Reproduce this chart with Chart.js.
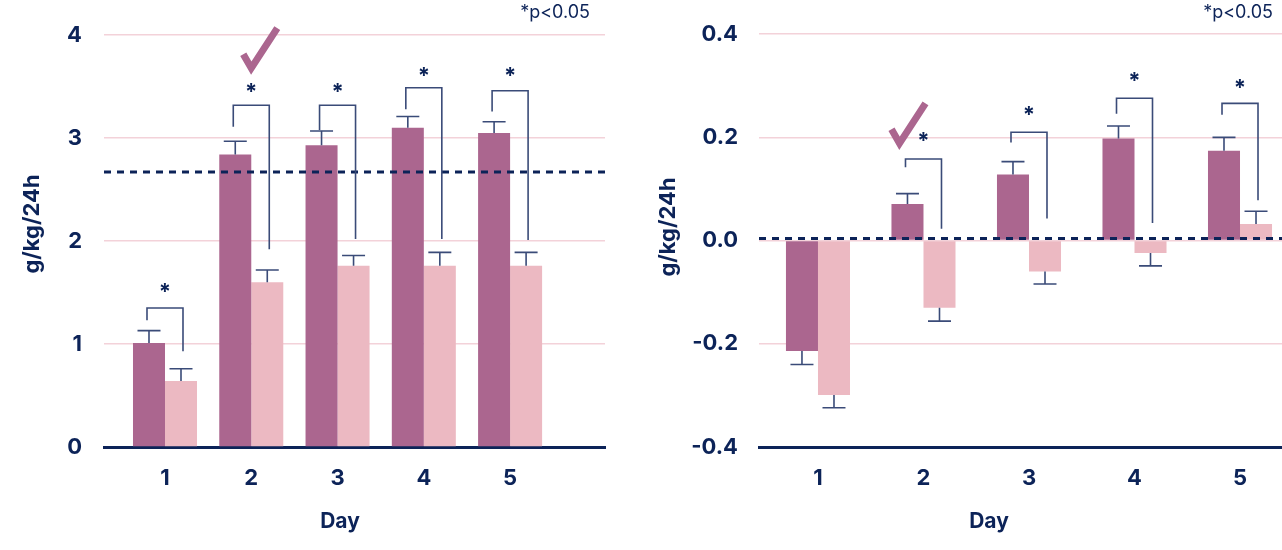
<!DOCTYPE html>
<html><head><meta charset="utf-8">
<script src="https://cdn.jsdelivr.net/npm/chart.js@4/dist/chart.umd.min.js"></script>
<style>
html,body{margin:0;padding:0;background:#fff;}
#wrap{position:relative;width:1282px;height:550px;overflow:hidden;}
.pane{position:absolute;top:0;height:550px;}
</style></head><body>
<div id="wrap">
  <div class="pane" style="left:0;width:640px"><canvas id="c1" width="640" height="550"></canvas></div>
  <div class="pane" style="left:640px;width:642px"><canvas id="c2" width="642" height="550"></canvas></div>
</div>
<script>
// ---------- data ----------
const days = [1, 2, 3, 4, 5];
const dayLabels = ['1', '2', '3', '4', '5'];
const xTitle = 'Day';
const yTitle = 'g/kg/24h';
const note = '*p<0.05';

// left panel (g/kg/24h)
const leftTicks = [0, 1, 2, 3, 4];
const leftDark = [1.01, 2.84, 2.93, 3.10, 3.05];
const leftDarkErr = [0.12, 0.13, 0.14, 0.11, 0.11];
const leftLight = [0.64, 1.60, 1.76, 1.76, 1.76];
const leftLightErr = [0.12, 0.12, 0.10, 0.13, 0.13];
const leftRef = 2.67;
const leftBracketTop = [1.35, 3.32, 3.32, 3.49, 3.46];
const leftBracketDarkEnd = [1.23, 3.11, 3.08, 3.28, 3.26];
const leftBracketLightEnd = [0.93, 1.92, 2.02, 2.02, 2.01];
const leftStar = [1.54, 3.49, 3.49, 3.64, 3.64];
const leftCheck = {day: 2, value: 3.68};

// right panel (g/kg/24h)
const rightTicks = [-0.4, -0.2, 0.0, 0.2, 0.4];
const rightDark = [-0.214, 0.071, 0.128, 0.198, 0.174];
const rightDarkErr = [0.026, 0.020, 0.025, 0.024, 0.026];
const rightLight = [-0.299, -0.130, -0.060, -0.024, 0.032];
const rightLightErr = [0.025, 0.026, 0.024, 0.025, 0.025];
const rightRef = 0.004;
const rightBracketTop = [null, 0.158, 0.210, 0.276, 0.266];
const rightBracketDarkEnd = [null, 0.142, 0.190, 0.246, 0.244];
const rightBracketLightEnd = [null, 0.023, 0.043, 0.034, 0.078];
const rightStar = [null, 0.200, 0.252, 0.317, 0.304];
const rightCheck = {day: 2, value: 0.1885};

// ---------- style ----------
const NAVY = '#0c2358';
const LINE = '#3a4b78';
const DARK = '#ab668f';
const LIGHT = '#ecb9c2';
const GRID = '#f3d2d9';
const FONT = 'Inter, "Liberation Sans", Arial, sans-serif';

const annot = {
  id: 'annot',
  afterDatasetsDraw(chart, args, o) {
    const ctx = chart.ctx, xs = chart.scales.x, ys = chart.scales.y, ca = chart.chartArea;
    ctx.save();
    // error bars
    o.errors.forEach((errs, di) => {
      const meta = chart.getDatasetMeta(di);
      meta.data.forEach((bar, i) => {
        const v = chart.data.datasets[di].data[i].y;
        const yp = ys.getPixelForValue(v + Math.sign(v) * errs[i]);
        ctx.strokeStyle = LINE; ctx.lineWidth = 1.6;
        ctx.beginPath();
        ctx.moveTo(bar.x, bar.y); ctx.lineTo(bar.x, yp);
        ctx.moveTo(bar.x - 11.5, yp); ctx.lineTo(bar.x + 11.5, yp);
        ctx.stroke();
      });
    });
    // reference dashed line
    const ry = ys.getPixelForValue(o.ref);
    ctx.strokeStyle = NAVY; ctx.lineWidth = 3; ctx.setLineDash([7, 6]);
    ctx.beginPath(); ctx.moveTo(ca.left, ry); ctx.lineTo(ca.right, ry); ctx.stroke();
    ctx.setLineDash([]);
    // brackets and stars
    const m0 = chart.getDatasetMeta(0), m1 = chart.getDatasetMeta(1);
    o.bTop.forEach((t, i) => {
      if (t == null) return;
      const c = (m0.data[i].x + m1.data[i].x) / 2;
      const a = c - 18, b = c + 18;
      const yt = ys.getPixelForValue(t);
      ctx.strokeStyle = LINE; ctx.lineWidth = 1.6;
      ctx.beginPath();
      ctx.moveTo(a, ys.getPixelForValue(o.bDark[i]));
      ctx.lineTo(a, yt); ctx.lineTo(b, yt);
      ctx.lineTo(b, ys.getPixelForValue(o.bLight[i]));
      ctx.stroke();
      ctx.fillStyle = NAVY;
      ctx.font = 'bold 22px ' + FONT;
      ctx.textAlign = 'center'; ctx.textBaseline = 'alphabetic';
      const mt = ctx.measureText('*');
      const sy = ys.getPixelForValue(o.stars[i]);
      ctx.fillText('*', c, sy + (mt.actualBoundingBoxAscent - mt.actualBoundingBoxDescent) / 2);
    });
    // check mark
    const cx = xs.getPixelForValue(o.check.day) + o.checkDx;
    const cy = ys.getPixelForValue(o.check.value);
    ctx.strokeStyle = DARK; ctx.lineWidth = 7; ctx.lineJoin = 'miter'; ctx.lineCap = 'butt';
    ctx.beginPath();
    ctx.moveTo(cx - 8, cy - 14); ctx.lineTo(cx, cy); ctx.lineTo(cx + 26, cy - 40);
    ctx.stroke();
    // significance note
    ctx.fillStyle = NAVY; ctx.font = '18px ' + FONT;
    ctx.textAlign = 'right'; ctx.textBaseline = 'middle';
    ctx.fillText(note, ca.right + o.noteDx, 13);
    // axis titles
    ctx.font = 'bold 21px ' + FONT;
    ctx.textAlign = 'center'; ctx.textBaseline = 'middle';
    ctx.fillText(xTitle, o.xTitlePos[0], o.xTitlePos[1]);
    ctx.save();
    ctx.translate(o.yTitlePos[0], o.yTitlePos[1]);
    ctx.rotate(-Math.PI / 2);
    ctx.font = 'bold 22px ' + FONT;
    ctx.fillText(yTitle, 0, 0);
    ctx.restore();
    ctx.restore();
  }
};

function makeChart(id, p) {
  const pts = arr => days.map((d, i) => ({x: d, y: arr[i]}));
  return new Chart(document.getElementById(id), {
    type: 'bar',
    data: {
      datasets: [
        {label: 'A', data: pts(p.dark), backgroundColor: DARK},
        {label: 'B', data: pts(p.light), backgroundColor: LIGHT}
      ]
    },
    options: {
      responsive: false, animation: false,
      layout: {padding: {top: 32, left: 0, right: p.padRight, bottom: 0}},
      categoryPercentage: p.catPct, barPercentage: 1,
      plugins: {
        legend: {display: false}, tooltip: {enabled: false},
        annot: {
          errors: [p.darkErr, p.lightErr], ref: p.ref,
          bTop: p.bTop, bDark: p.bDark, bLight: p.bLight, stars: p.stars,
          check: p.check, checkDx: p.checkDx, noteDx: p.noteDx,
          xTitlePos: p.xTitlePos, yTitlePos: p.yTitlePos
        }
      },
      scales: {
        x: {
          type: 'linear', min: p.xmin, max: p.xmax, offset: false,
          afterBuildTicks: s => { s.ticks = days.map(v => ({value: v})); },
          afterFit: s => { s.height = 103; },
          grid: {display: true, drawOnChartArea: false, drawTicks: false},
          border: {display: true, color: NAVY, width: 3},
          ticks: {
            padding: 18, color: NAVY, font: {family: FONT, size: 22, weight: 'bold'},
            callback: v => dayLabels[days.indexOf(v)] ?? ''
          }
        },
        y: {
          min: p.ymin, max: p.ymax,
          afterBuildTicks: s => { s.ticks = p.ticks.map(v => ({value: v})); },
          afterFit: s => { s.width = p.yWidth; },
          grid: {color: GRID, lineWidth: 1.5, drawTicks: false},
          border: {display: false},
          ticks: {
            padding: p.yPad, color: NAVY, font: {family: FONT, size: 22, weight: 'bold'},
            callback: v => p.fmt(v)
          }
        }
      }
    },
    plugins: [annot]
  });
}

makeChart('c1', {
  dark: leftDark, light: leftLight, darkErr: leftDarkErr, lightErr: leftLightErr,
  ref: leftRef, bTop: leftBracketTop, bDark: leftBracketDarkEnd, bLight: leftBracketLightEnd,
  stars: leftStar, check: leftCheck, checkDx: 0, noteDx: -15,
  ticks: leftTicks, ymin: 0, ymax: 4, fmt: v => String(v),
  xmin: 0.293, xmax: 6.10, catPct: 0.742, padRight: 35, yWidth: 104, yPad: 22,
  xTitlePos: [340, 522], yTitlePos: [32, 224]
});
makeChart('c2', {
  dark: rightDark, light: rightLight, darkErr: rightDarkErr, lightErr: rightLightErr,
  ref: rightRef, bTop: rightBracketTop, bDark: rightBracketDarkEnd, bLight: rightBracketLightEnd,
  stars: rightStar, check: rightCheck, checkDx: -24, noteDx: -9,
  ticks: rightTicks, ymin: -0.4, ymax: 0.4, fmt: v => (Math.abs(v) < 1e-9 ? 0 : v).toFixed(1),
  xmin: 0.441, xmax: 5.398, catPct: 0.607, padRight: 0, yWidth: 119, yPad: 21,
  xTitlePos: [349, 522], yTitlePos: [28, 227]
});
</script>
</body></html>
